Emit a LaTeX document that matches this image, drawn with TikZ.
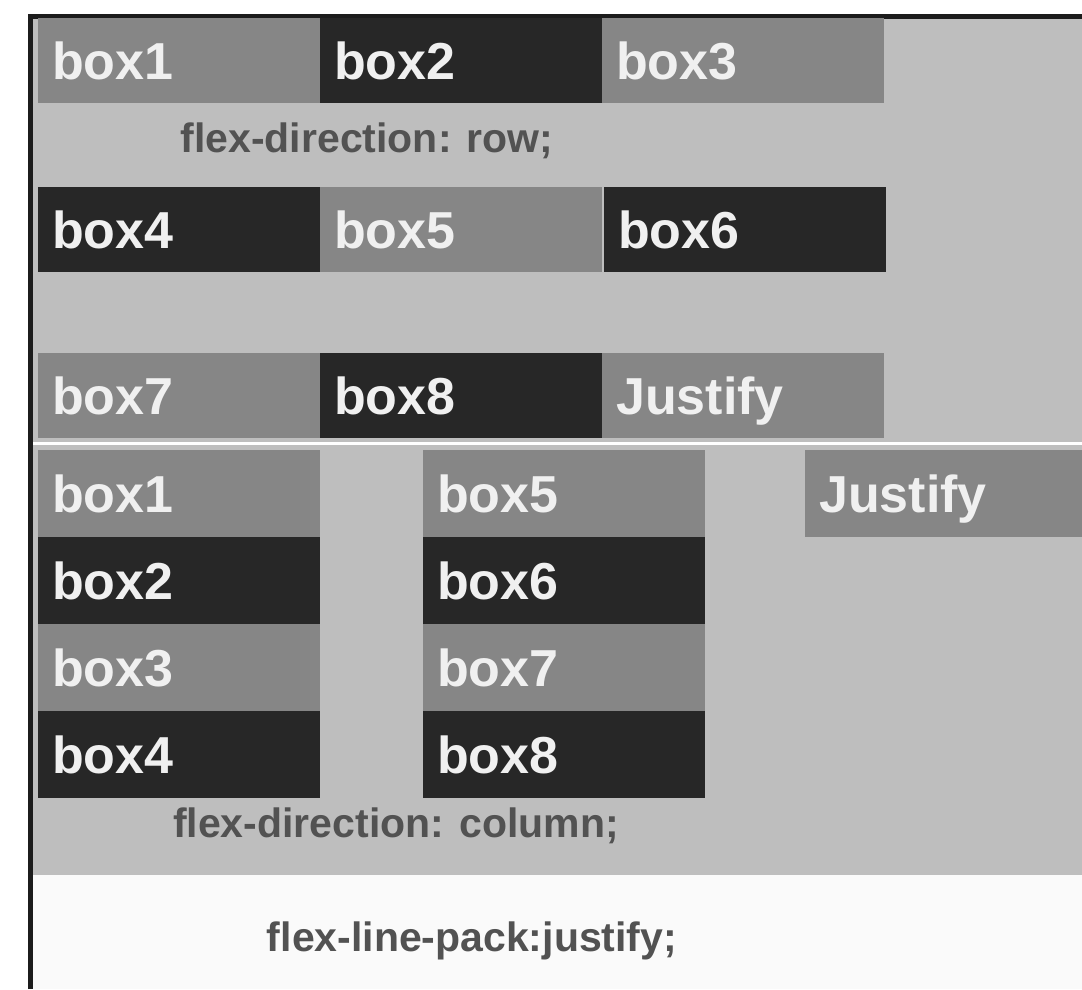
\documentclass[tikz,border=0pt]{standalone}
\usepackage{fontspec}
\setmainfont{Liberation Sans}
\definecolor{panel}{HTML}{BEBEBE}
\definecolor{midbox}{HTML}{868686}
\definecolor{darkbox}{HTML}{272727}
\definecolor{frame}{HTML}{1C1C1C}

\begin{document}
\begin{tikzpicture}[
    x=1pt, y=-1pt,
    box/.style={anchor=north west, inner xsep=14pt, inner ysep=0pt,
      text width=254pt, text height=48pt, text depth=11pt,
      minimum height=85pt, text=black!6,
      font=\bfseries\fontsize{52}{52}\selectfont},
    mid/.style={box, fill=midbox},
    dark/.style={box, fill=darkbox},
    colbox/.style={minimum height=87pt},
    caption/.style={text=black!68, inner sep=0pt,
      font=\bfseries\fontsize{41}{41}\selectfont},
  ]
  \useasboundingbox (0,0) rectangle (1082,989);
  \fill[white] (0,0) rectangle (1082,989);
  \fill[panel] (33,18) rectangle (1082,875);
  \fill[black!2] (33,875) rectangle (1082,989);
  % cadre
  \draw[frame, line width=5pt] (30.5,989) -- (30.5,16) -- (1082,16);

  % flex-direction: row
  \node[mid]  (rbox1) at (38,18) {box1};
  \node[dark] (rbox2) at (320,18) {box2};
  \node[mid]  (rbox3) at (602,18) {box3};
  \node[caption] (rowcap) at (367,141) {flex-direction: row;};
  \node[dark] (rbox4) at (38,187) {box4};
  \node[mid]  (rbox5) at (320,187) {box5};
  \node[dark] (rbox6) at (604,187) {box6};
  \node[mid]  (rbox7) at (38,353) {box7};
  \node[dark] (rbox8) at (320,353) {box8};
  \node[mid]  (rjust) at (602,353) {Justify};

  % separation
  \draw[white, line width=3pt] (33,443) -- (1082,443);

  % flex-direction: column
  \node[mid, colbox]  (cbox1) at (38,450) {box1};
  \node[dark, colbox] (cbox2) at (38,537) {box2};
  \node[mid, colbox]  (cbox3) at (38,624) {box3};
  \node[dark, colbox] (cbox4) at (38,711) {box4};
  \node[mid, colbox]  (cbox5) at (423,450) {box5};
  \node[dark, colbox] (cbox6) at (423,537) {box6};
  \node[mid, colbox]  (cbox7) at (423,624) {box7};
  \node[dark, colbox] (cbox8) at (423,711) {box8};
  \node[mid, colbox, text width=249pt] (cjust) at (805,450) {Justify};
  \node[caption] (colcap) at (396,826) {flex-direction: column;};

  \node[caption] (packcap) at (472,941) {flex-line-pack:justify;};
\end{tikzpicture}
\end{document}
